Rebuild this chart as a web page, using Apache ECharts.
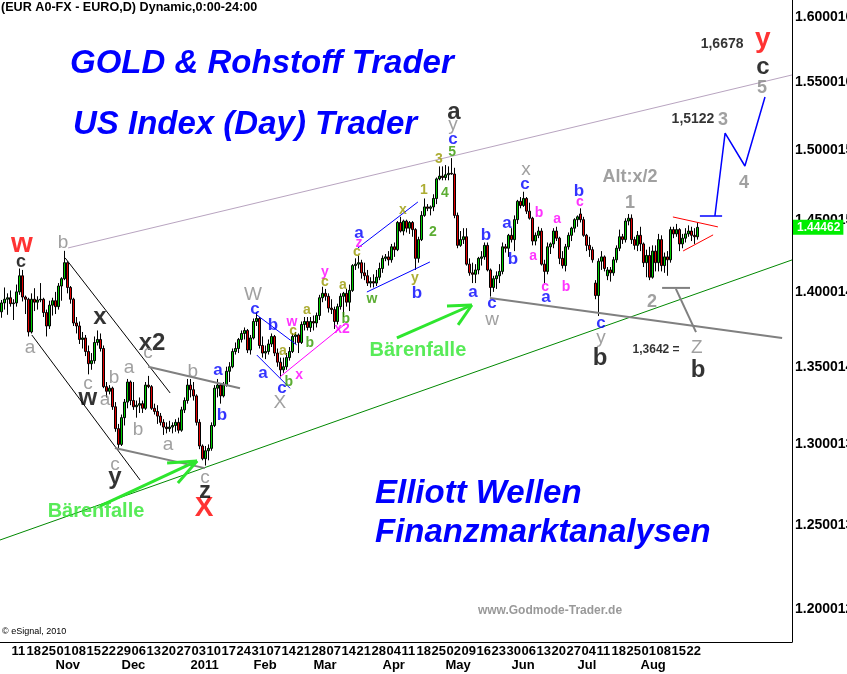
<!DOCTYPE html>
<html>
<head>
<meta charset="utf-8">
<title>EUR/USD Elliott Wellen</title>
<script src="https://cdn.jsdelivr.net/npm/echarts@6/dist/echarts.min.js"></script>
<style>
html, body { margin: 0; padding: 0; background: #fff; }
#chart { width: 847px; height: 674px; }
</style>
</head>
<body>
<div id="chart"></div>
<script>
// daily candles, [open, high, low, close]
var oct10 = [
  [1.3865,1.3945,1.3825,1.3925],[1.3925,1.4030,1.3880,1.3950],[1.3950,1.3990,1.3845,1.3960],
  [1.3960,1.4010,1.3900,1.3920],[1.3920,1.3950,1.3810,1.3925],[1.3925,1.4050,1.3900,1.4000],
  [1.4000,1.4160,1.3980,1.4110],[1.4110,1.4150,1.3935,1.3965],[1.3965,1.3975,1.3850,1.3950],
  [1.3950,1.3960,1.3700,1.3730],[1.3730,1.3990,1.3720,1.3950],[1.3950,1.4025,1.3870,1.3930],
  [1.3930,1.3970,1.3880,1.3945],[1.3945,1.4060,1.3930,1.3950],[1.3950,1.3960,1.3830,1.3860],
  [1.3860,1.3880,1.3700,1.3770],[1.3770,1.3940,1.3750,1.3910],[1.3910,1.3960,1.3840,1.3940]
];
var nov10 = [
  [1.3940,1.4000,1.3850,1.3900],[1.3900,1.4060,1.3880,1.4040],[1.4040,1.4100,1.3940,1.4090],
  [1.4090,1.4282,1.4080,1.4200],[1.4200,1.4210,1.3990,1.4030],[1.4030,1.4040,1.3920,1.3950],
  [1.3950,1.3960,1.3770,1.3790],[1.3790,1.3830,1.3720,1.3770],[1.3770,1.3800,1.3650,1.3680],
  [1.3680,1.3730,1.3620,1.3690],[1.3690,1.3710,1.3570,1.3600],[1.3600,1.3640,1.3450,1.3520],
  [1.3520,1.3590,1.3480,1.3540],[1.3540,1.3700,1.3520,1.3660],[1.3660,1.3740,1.3640,1.3680],
  [1.3680,1.3720,1.3600,1.3620],[1.3620,1.3640,1.3360,1.3370],[1.3370,1.3400,1.3300,1.3340],
  [1.3340,1.3380,1.3320,1.3360],[1.3360,1.3370,1.3220,1.3240],[1.3240,1.3270,1.3080,1.3100],
  [1.3100,1.3130,1.2969,1.3000]
];
var dec10 = [
  [1.3000,1.3190,1.2990,1.3170],[1.3170,1.3290,1.3120,1.3270],[1.3270,1.3420,1.3230,1.3400],
  [1.3400,1.3410,1.3250,1.3280],[1.3280,1.3400,1.3220,1.3240],[1.3240,1.3280,1.3170,1.3250],
  [1.3250,1.3300,1.3200,1.3260],[1.3260,1.3280,1.3200,1.3230],[1.3230,1.3400,1.3220,1.3380],
  [1.3380,1.3440,1.3360,1.3370],[1.3370,1.3380,1.3220,1.3230],[1.3230,1.3260,1.3190,1.3210],
  [1.3210,1.3250,1.3130,1.3180],[1.3180,1.3200,1.3120,1.3140],[1.3140,1.3160,1.3060,1.3110],
  [1.3110,1.3140,1.3070,1.3100],[1.3100,1.3150,1.3080,1.3110],[1.3110,1.3140,1.3070,1.3120],
  [1.3120,1.3160,1.3080,1.3140],[1.3140,1.3170,1.3070,1.3090],[1.3090,1.3240,1.3080,1.3220],
  [1.3220,1.3300,1.3200,1.3280],[1.3280,1.3420,1.3260,1.3380]
];
var jan11 = [
  [1.3380,1.3420,1.3300,1.3350],[1.3350,1.3400,1.3280,1.3310],[1.3310,1.3320,1.3120,1.3140],
  [1.3140,1.3160,1.2970,1.2990],[1.2990,1.3000,1.2900,1.2910],[1.2910,1.2990,1.2867,1.2960],
  [1.2960,1.3000,1.2900,1.2975],[1.2975,1.3140,1.2960,1.3120],[1.3120,1.3380,1.3110,1.3360],
  [1.3360,1.3420,1.3300,1.3380],[1.3380,1.3390,1.3260,1.3310],[1.3310,1.3400,1.3300,1.3380],
  [1.3380,1.3500,1.3370,1.3470],[1.3470,1.3530,1.3400,1.3500],[1.3500,1.3620,1.3490,1.3600],
  [1.3600,1.3660,1.3580,1.3620],[1.3620,1.3690,1.3590,1.3680],[1.3680,1.3740,1.3660,1.3720],
  [1.3720,1.3760,1.3680,1.3740],[1.3740,1.3750,1.3590,1.3610],[1.3610,1.3710,1.3580,1.3690]
];
var feb11 = [
  [1.3690,1.3820,1.3680,1.3800],[1.3800,1.3862,1.3770,1.3820],[1.3820,1.3830,1.3620,1.3640],
  [1.3640,1.3700,1.3560,1.3590],[1.3590,1.3640,1.3550,1.3600],[1.3600,1.3680,1.3580,1.3650],
  [1.3650,1.3720,1.3630,1.3700],[1.3700,1.3710,1.3570,1.3590],[1.3590,1.3620,1.3500,1.3530],
  [1.3530,1.3560,1.3430,1.3480],[1.3480,1.3560,1.3460,1.3500],[1.3500,1.3590,1.3480,1.3560],
  [1.3560,1.3630,1.3540,1.3600],[1.3600,1.3720,1.3590,1.3700],[1.3700,1.3730,1.3650,1.3710],
  [1.3710,1.3720,1.3590,1.3660],[1.3660,1.3800,1.3650,1.3780],[1.3780,1.3830,1.3740,1.3800],
  [1.3800,1.3830,1.3740,1.3760],[1.3760,1.3830,1.3730,1.3800]
];
var mar11 = [
  [1.3800,1.3840,1.3740,1.3790],[1.3790,1.3860,1.3760,1.3840],[1.3840,1.3980,1.3810,1.3960],
  [1.3960,1.4035,1.3930,1.3990],[1.3990,1.4020,1.3940,1.3970],[1.3970,1.3990,1.3860,1.3890],
  [1.3890,1.3950,1.3850,1.3880],[1.3880,1.3900,1.3750,1.3800],[1.3800,1.3920,1.3780,1.3900],
  [1.3900,1.3990,1.3880,1.3970],[1.3970,1.4000,1.3830,1.3990],[1.3990,1.4020,1.3900,1.3930],
  [1.3930,1.4050,1.3870,1.4010],[1.4010,1.4190,1.4000,1.4180],[1.4180,1.4230,1.4150,1.4190],
  [1.4190,1.4250,1.4160,1.4200],[1.4200,1.4220,1.4090,1.4130],[1.4130,1.4200,1.4080,1.4110],
  [1.4110,1.4150,1.4040,1.4060],[1.4060,1.4100,1.4030,1.4070],[1.4070,1.4120,1.4030,1.4060],
  [1.4060,1.4150,1.4040,1.4100],[1.4100,1.4200,1.4080,1.4160]
];
var apr11 = [
  [1.4160,1.4250,1.4130,1.4230],[1.4230,1.4260,1.4210,1.4240],[1.4240,1.4280,1.4180,1.4220],
  [1.4220,1.4330,1.4200,1.4310],[1.4310,1.4340,1.4240,1.4290],[1.4290,1.4490,1.4280,1.4480],
  [1.4480,1.4520,1.4410,1.4420],[1.4420,1.4500,1.4390,1.4490],[1.4490,1.4500,1.4410,1.4440],
  [1.4440,1.4490,1.4400,1.4480],[1.4480,1.4490,1.4380,1.4430],[1.4430,1.4440,1.4150,1.4230],
  [1.4230,1.4380,1.4200,1.4360],[1.4360,1.4560,1.4350,1.4530],[1.4530,1.4650,1.4520,1.4590],
  [1.4590,1.4610,1.4560,1.4580],[1.4580,1.4600,1.4530,1.4590],[1.4590,1.4680,1.4560,1.4650],
  [1.4650,1.4800,1.4610,1.4790],[1.4790,1.4880,1.4780,1.4810],[1.4810,1.4880,1.4780,1.4800]
];
var may11 = [
  [1.4800,1.4890,1.4780,1.4820],[1.4820,1.4880,1.4780,1.4830],[1.4830,1.4940,1.4820,1.4825],
  [1.4825,1.4870,1.4510,1.4530],[1.4530,1.4550,1.4300,1.4320],[1.4320,1.4420,1.4310,1.4360],
  [1.4360,1.4440,1.4330,1.4380],[1.4380,1.4440,1.4180,1.4190],[1.4190,1.4230,1.4110,1.4130],
  [1.4130,1.4200,1.4060,1.4120],[1.4120,1.4190,1.4060,1.4150],[1.4150,1.4240,1.4120,1.4230],
  [1.4230,1.4280,1.4180,1.4240],[1.4240,1.4340,1.4220,1.4320],[1.4320,1.4340,1.4140,1.4150],
  [1.4150,1.4160,1.3968,1.4030],[1.4030,1.4110,1.4000,1.4090],[1.4090,1.4140,1.4020,1.4110],
  [1.4110,1.4190,1.4060,1.4140],[1.4140,1.4340,1.4120,1.4310],[1.4310,1.4330,1.4270,1.4300],
  [1.4300,1.4400,1.4240,1.4390]
];
var jun11 = [
  [1.4390,1.4440,1.4340,1.4360],[1.4360,1.4530,1.4280,1.4500],[1.4500,1.4640,1.4470,1.4630],
  [1.4630,1.4660,1.4580,1.4600],[1.4600,1.4698,1.4590,1.4650],[1.4650,1.4660,1.4540,1.4560],
  [1.4560,1.4620,1.4500,1.4510],[1.4510,1.4520,1.4320,1.4350],[1.4350,1.4410,1.4320,1.4390],
  [1.4390,1.4450,1.4370,1.4420],[1.4420,1.4440,1.4180,1.4190],[1.4190,1.4220,1.4060,1.4140],
  [1.4140,1.4340,1.4120,1.4310],[1.4310,1.4340,1.4260,1.4330],[1.4330,1.4440,1.4300,1.4420],
  [1.4420,1.4450,1.4350,1.4370],[1.4370,1.4380,1.4190,1.4230],[1.4230,1.4280,1.4160,1.4180],
  [1.4180,1.4330,1.4140,1.4310],[1.4310,1.4410,1.4290,1.4390],[1.4390,1.4450,1.4350,1.4440],
  [1.4440,1.4510,1.4410,1.4500]
];
var jul11 = [
  [1.4500,1.4530,1.4450,1.4520],[1.4540,1.4580,1.4480,1.4500],[1.4500,1.4520,1.4380,1.4390],
  [1.4390,1.4400,1.4280,1.4320],[1.4320,1.4380,1.4240,1.4290],[1.4290,1.4310,1.4200,1.4220],
  [1.4060,1.4080,1.3950,1.3975],[1.3975,1.4230,1.3837,1.4210],[1.4210,1.4280,1.4150,1.4240],
  [1.4240,1.4250,1.4140,1.4160],[1.4110,1.4170,1.4080,1.4150],[1.4150,1.4170,1.4070,1.4130],
  [1.4130,1.4240,1.4110,1.4220],[1.4220,1.4320,1.4200,1.4300],[1.4300,1.4430,1.4280,1.4380],
  [1.4380,1.4400,1.4330,1.4360],[1.4360,1.4510,1.4340,1.4490],[1.4490,1.4540,1.4460,1.4510],
  [1.4510,1.4537,1.4330,1.4360],[1.4360,1.4380,1.4290,1.4320],[1.4320,1.4420,1.4280,1.4390]
];
var aug11 = [
  [1.4390,1.4450,1.4280,1.4330],[1.4330,1.4340,1.4170,1.4200],[1.4200,1.4290,1.4100,1.4250],
  [1.4250,1.4310,1.4080,1.4100],[1.4100,1.4320,1.4090,1.4280],[1.4280,1.4320,1.4140,1.4200],
  [1.4200,1.4400,1.4140,1.4360],[1.4360,1.4390,1.4140,1.4180],[1.4180,1.4270,1.4130,1.4240],
  [1.4240,1.4280,1.4110,1.4220],[1.4220,1.4450,1.4200,1.4430],[1.4430,1.4450,1.4370,1.4400],
  [1.4400,1.4470,1.4380,1.4430],[1.4430,1.4440,1.4280,1.4330],[1.4330,1.4400,1.4300,1.4370],
  [1.4370,1.4440,1.4340,1.4400],[1.4400,1.4460,1.4380,1.4420],[1.4420,1.4450,1.4350,1.4390],
  [1.4390,1.4440,1.4330,1.4380],[1.4380,1.4480,1.4360,1.4446]
];

var lastPrice = 1.44462;
var yTickValues = [1.2, 1.25, 1.3, 1.35, 1.4, 1.45, 1.5, 1.55, 1.6];
var yTickText = ['1.200012', '1.250013', '1.300013', '1.350014', '1.400014', '1.450015', '1.500015', '1.550016', '1.600016'];
var monthText = ['2011', 'Feb', 'Mar', 'Apr', 'May', 'Jun', 'Jul', 'Aug', 'Sep', 'Oct', 'Nov', 'Dec'];

// drawn lines, points are [day index, price]
var upperLine = [[22.2, 1.4302], [263.5, 1.5556]];
var supportLine = [[-0.5, 1.2410], [263.5, 1.4219]];
var blackLineA = [[21.2, 1.4233], [56.2, 1.3329]];
var blackLineB = [[10.1, 1.3710], [46.2, 1.2777]];
var grayLineA = [[37.8, 1.2977], [67.8, 1.2851]];
var grayLineB = [[48.9, 1.3500], [79.5, 1.3359]];
var grayLineC = [[162.8, 1.3958], [260.2, 1.3690]];
var grayLineD = [[220.2, 1.4027], [229.5, 1.4027]];
var grayLineE = [[224.8, 1.4020], [231.5, 1.3729]];
var blueLineA = [[85.1, 1.3844], [98.4, 1.3644]];
var blueLineB = [[85.1, 1.3577], [96.2, 1.3359]];
var blueLineC = [[118.8, 1.4302], [138.8, 1.4625]];
var blueLineD = [[121.8, 1.3999], [142.8, 1.4205]];
var magentaLine = [[92.8, 1.3433], [114.2, 1.3777]];
var redLineA = [[223.8, 1.4519], [238.8, 1.4449]];
var redLineB = [[227.2, 1.4281], [237.2, 1.4393]];
var projBase = [[232.8, 1.4526], [240.2, 1.4526]];
var projPath = [[237.8, 1.4526], [241.2, 1.5123], [247.8, 1.4883], [254.5, 1.5390]];
var arrow1 = [[32.8, 1.2616], [65.2, 1.2896]];
var arrow1BarbA = [[55.2, 1.2883], [65.2, 1.2896]];
var arrow1BarbB = [[58.8, 1.2758], [65.2, 1.2896]];
var arrow2 = [[131.8, 1.3690], [156.8, 1.3911]];
var arrow2BarbA = [[148.5, 1.3904], [156.8, 1.3911]];
var arrow2BarbB = [[152.2, 1.3777], [156.8, 1.3911]];

// wave labels, [text, day index, price]
var redLabels = [['w', 6.8, 1.4330], ['X', 67.5, 1.2601], ['y', 253.8, 1.5830]];
var blackLabels = [['x', 32.8, 1.3830], ['x2', 50.2, 1.3657], ['w', 28.8, 1.3297], ['y', 37.8, 1.2791],
  ['z', 67.8, 1.2705], ['a', 150.8, 1.5279], ['b', 199.5, 1.3558], ['b', 232.2, 1.3479], ['c', 253.8, 1.5616]];
var blackSmallLabels = [['c', 6.5, 1.4205]];
var grayLabels = [['b', 20.5, 1.4337], ['a', 9.5, 1.3624], ['c', 28.8, 1.3388], ['b', 37.5, 1.3427],
  ['a', 34.5, 1.3284], ['a', 42.5, 1.3492], ['b', 45.5, 1.3092], ['a', 55.5, 1.2997], ['b', 63.8, 1.3466],
  ['c', 48.8, 1.3591], ['c', 37.8, 1.2871], ['c', 67.8, 1.2791], ['W', 83.8, 1.3979], ['X', 92.8, 1.3265],
  ['y', 150.5, 1.5182], ['x', 174.8, 1.4854], ['w', 163.5, 1.3810], ['y', 199.8, 1.3690], ['Z', 231.8, 1.3624]];
var grayBoldLabels = [['1', 209.5, 1.4618], ['2', 216.8, 1.3931], ['3', 240.5, 1.5219], ['4', 247.5, 1.4760],
  ['5', 253.5, 1.5458], ['Alt:x/2', 209.5, 1.4803]];
var blueLabels = [['a', 72.2, 1.3479], ['b', 73.5, 1.3187], ['c', 84.5, 1.3884], ['b', 90.5, 1.3777],
  ['a', 87.2, 1.3459], ['c', 93.5, 1.3362], ['a', 119.2, 1.4407], ['b', 138.5, 1.3992], ['c', 150.5, 1.5079],
  ['b', 161.5, 1.4393], ['a', 157.2, 1.3999], ['a', 168.5, 1.4477], ['b', 170.5, 1.4226], ['c', 174.5, 1.4753],
  ['c', 163.5, 1.3925], ['a', 181.5, 1.3965], ['b', 192.5, 1.4703], ['c', 199.8, 1.3790]];
var magentaLabels = [['w', 96.8, 1.3797], ['x', 99.2, 1.3446], ['y', 107.8, 1.4136], ['x2', 113.5, 1.3750],
  ['z', 119.2, 1.4337], ['b', 179.2, 1.4547], ['a', 185.2, 1.4505], ['a', 177.2, 1.4247], ['c', 181.2, 1.4034],
  ['b', 188.2, 1.4034], ['c', 192.8, 1.4625]];
var oliveLabels = [['a', 93.8, 1.3604], ['c', 97.2, 1.3737], ['a', 101.8, 1.3878], ['c', 107.8, 1.4068],
  ['a', 113.8, 1.4047], ['c', 118.5, 1.4274], ['x', 133.8, 1.4568], ['y', 137.8, 1.4095], ['1', 140.8, 1.4710],
  ['3', 145.8, 1.4934]];
var greenLabels = [['b', 95.8, 1.3401], ['b', 102.8, 1.3657], ['b', 114.8, 1.3817], ['w', 123.5, 1.3952],
  ['2', 143.8, 1.4414], ['4', 147.8, 1.4689], ['5', 150.2, 1.4984]];
var targetLabels = [['1,6678', 240.2, 1.5792], ['1,5122', 230.5, 1.5227]];
var noteLabels = [['1,3642 =', 218.2, 1.3610]];
var trapLabels = [['Bärenfalle', 31.5, 1.2583], ['Bärenfalle', 138.8, 1.3604]];

var candles = [].concat(oct10, nov10, dec10, jan11, feb11, mar11, apr11, may11, jun11, jul11, aug11);

// trading days (Mon-Fri), with room to the right for the projection
var dayCount = 264;
var dates = [];
for (var d = new Date(Date.UTC(2010, 9, 6)); dates.length < dayCount; d.setUTCDate(d.getUTCDate() + 1)) {
  var wd = d.getUTCDay();
  if (wd !== 0 && wd !== 6) dates.push(d.toISOString().slice(0, 10));
}

var FONT = '"Liberation Sans", Arial, sans-serif';
var Y_MIN = 1.1810, Y_MAX = 1.6133;

function isMonday(i) {
  return i < candles.length && new Date(dates[i] + 'T00:00:00Z').getUTCDay() === 1;
}
function isMonthStart(i) {
  return i > 0 && i < candles.length && dates[i].slice(5, 7) !== dates[i - 1].slice(5, 7);
}

function lineSeries(pts, color, width) {
  return {
    type: 'line', xAxisIndex: 2, yAxisIndex: 0, data: pts, symbol: 'none', silent: true,
    lineStyle: { color: color, width: width }, z: 3
  };
}

function labelSeries(items, color, size, weight) {
  return {
    type: 'scatter', xAxisIndex: 2, yAxisIndex: 0, silent: true, z: 5,
    symbolSize: 1, itemStyle: { color: 'rgba(0,0,0,0)' },
    label: {
      show: true, position: 'inside', formatter: '{b}',
      color: color, fontSize: size, fontWeight: weight, fontFamily: FONT
    },
    data: items.map(function (it) { return { name: it[0], value: [it[1], it[2]] }; })
  };
}

function bigText(text, x, y) {
  return {
    type: 'text', x: x, y: y, silent: true,
    style: { text: text, font: 'italic bold 33px ' + FONT, fill: '#0000ff', textVerticalAlign: 'middle', verticalAlign: 'middle' }
  };
}

var chart = echarts.init(document.getElementById('chart'));

var option = {
  animation: false,
  backgroundColor: '#fff',
  grid: { left: 0, right: 55, top: 0, bottom: 32, containLabel: false, outerBoundsMode: 'none' },
  xAxis: [
    {
      type: 'category', data: dates, boundaryGap: true,
      axisLine: { onZero: false, lineStyle: { color: '#000', width: 1 } },
      axisTick: { show: false }, splitLine: { show: false },
      axisLabel: {
        interval: function (i) { return isMonday(i); },
        formatter: function (v) { return v.slice(8, 10); },
        align: 'left', margin: 3, padding: [0, 0, 0, 1], color: '#000', fontSize: 13, fontWeight: 'bold', fontFamily: FONT
      }
    },
    {
      type: 'category', data: dates, boundaryGap: true, position: 'bottom', offset: 14,
      axisLine: { show: false, onZero: false }, axisTick: { show: false }, splitLine: { show: false },
      axisLabel: {
        interval: function (i) { return isMonthStart(i); },
        formatter: function (v) { return monthText[parseInt(v.slice(5, 7), 10) - 1]; },
        align: 'left', margin: 3, color: '#000', fontSize: 13, fontWeight: 'bold', fontFamily: FONT
      }
    },
    { type: 'value', min: -0.5, max: dayCount - 0.5, show: false, axisLine: { onZero: false } }
  ],
  yAxis: [
    {
      type: 'log', logBase: 10, min: Y_MIN, max: Y_MAX, position: 'right',
      axisLine: { show: true, onZero: false, lineStyle: { color: '#000', width: 1 } },
      axisTick: { show: false }, splitLine: { show: false },
      axisLabel: {
        customValues: yTickValues,
        formatter: function (v) {
          for (var i = 0; i < yTickValues.length; i++) {
            if (Math.abs(yTickValues[i] - v) < 1e-4) return yTickText[i];
          }
          return '';
        },
        margin: 3, color: '#000', fontSize: 14, fontWeight: 'bold', fontFamily: FONT
      }
    },
    {
      // last price tag
      type: 'log', logBase: 10, min: Y_MIN, max: Y_MAX, position: 'right',
      axisLine: { show: false, onZero: false }, axisTick: { show: false }, splitLine: { show: false },
      axisLabel: {
        customValues: [lastPrice],
        formatter: function () { return String(lastPrice); },
        margin: 1, color: '#fff', fontSize: 12, fontWeight: 'bold', fontFamily: FONT,
        backgroundColor: '#00ee00', padding: [2, 3, 1, 4]
      }
    }
  ],
  graphic: [
    { type: 'text', x: 1, y: 1, silent: true, style: { text: '(EUR A0-FX - EURO,D) Dynamic,0:00-24:00', font: 'bold 12.6px ' + FONT, fill: '#000', textVerticalAlign: 'top', verticalAlign: 'top' } },
    bigText('GOLD & Rohstoff Trader', 70, 64),
    bigText('US Index (Day) Trader', 73, 125),
    bigText('Elliott Wellen', 375, 494),
    bigText('Finanzmarktanalysen', 375, 533),
    { type: 'text', x: 550, y: 611, silent: true, style: { text: 'www.Godmode-Trader.de', font: 'bold 12px ' + FONT, fill: '#999', textAlign: 'center', align: 'center', textVerticalAlign: 'middle', verticalAlign: 'middle' } },
    { type: 'text', x: 2, y: 632, silent: true, style: { text: '\u00a9 eSignal, 2010', font: '9px ' + FONT, fill: '#000', textVerticalAlign: 'middle', verticalAlign: 'middle' } }
  ],
  series: [
    {
      type: 'candlestick', xAxisIndex: 0, yAxisIndex: 0, barWidth: 3, z: 2,
      data: candles.map(function (c) { return [c[0], c[3], c[2], c[1]]; }),
      itemStyle: { color: '#00cc00', color0: '#e00000', borderColor: '#000', borderColor0: '#000', borderWidth: 1 }
    },
    lineSeries(upperLine, '#b8a4c0', 1),
    lineSeries(supportLine, '#008800', 1),
    lineSeries(blackLineA, '#000', 1),
    lineSeries(blackLineB, '#000', 1),
    lineSeries(grayLineA, '#808080', 2),
    lineSeries(grayLineB, '#808080', 2),
    lineSeries(grayLineC, '#808080', 2),
    lineSeries(grayLineD, '#808080', 2),
    lineSeries(grayLineE, '#808080', 2),
    lineSeries(blueLineA, '#0000ff', 1),
    lineSeries(blueLineB, '#0000ff', 1),
    lineSeries(blueLineC, '#0000ff', 1),
    lineSeries(blueLineD, '#0000ff', 1),
    lineSeries(magentaLine, '#ff00ff', 1),
    lineSeries(redLineA, '#ff0000', 1),
    lineSeries(redLineB, '#ff0000', 1),
    lineSeries(projBase, '#0000ff', 1.5),
    lineSeries(projPath, '#0000ff', 1.5),
    lineSeries(arrow1, '#2ee62e', 3),
    lineSeries(arrow1BarbA, '#2ee62e', 3),
    lineSeries(arrow1BarbB, '#2ee62e', 3),
    lineSeries(arrow2, '#2ee62e', 3),
    lineSeries(arrow2BarbA, '#2ee62e', 3),
    lineSeries(arrow2BarbB, '#2ee62e', 3),
    labelSeries(redLabels, '#ff0000', 28, 'bold'),
    labelSeries(blackLabels, '#000', 24, 'bold'),
    labelSeries(blackSmallLabels, '#000', 18, 'bold'),
    labelSeries(grayLabels, '#888888', 19, 'normal'),
    labelSeries(grayBoldLabels, '#888888', 18, 'bold'),
    labelSeries(blueLabels, '#0000ff', 17, 'bold'),
    labelSeries(magentaLabels, '#ff00ff', 14, 'bold'),
    labelSeries(oliveLabels, '#999900', 14, 'bold'),
    labelSeries(greenLabels, '#339900', 14, 'bold'),
    labelSeries(targetLabels, '#000', 14, 'bold'),
    labelSeries(noteLabels, '#000', 12, 'bold'),
    labelSeries(trapLabels, '#2ee62e', 20, 'bold')
  ]
};

chart.setOption(option);
</script>
</body>
</html>
